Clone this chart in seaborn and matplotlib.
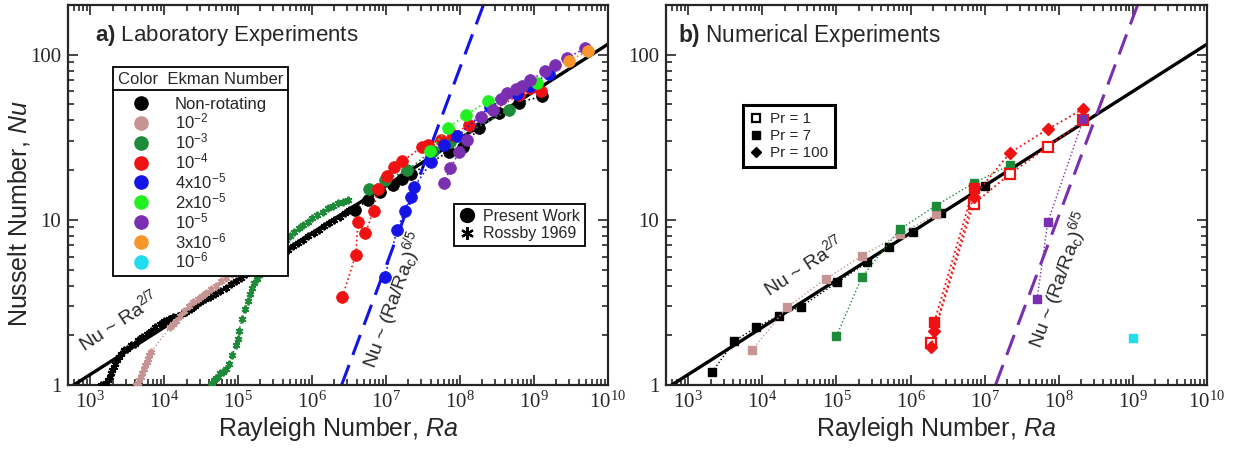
import numpy as np
import matplotlib
matplotlib.use('Agg')
import matplotlib.pyplot as plt
from matplotlib import ticker
from matplotlib.lines import Line2D
import seaborn as sns

sns.set_style('ticks')
plt.rcParams['font.family'] = ['Liberation Sans', 'DejaVu Sans']
plt.rcParams['mathtext.fontset'] = 'custom'
plt.rcParams['mathtext.rm'] = 'Liberation Sans'
plt.rcParams['mathtext.it'] = 'Liberation Sans:italic'
plt.rcParams['mathtext.bf'] = 'Liberation Sans:bold'

# colours per Ekman number
C_BLACK = '#000000'
C_ROSY = '#C79494'
C_GREEN = '#1E8B3A'
C_RED = '#F01212'
C_BLUE = '#1414E6'
C_LIME = '#22F022'
C_PURPLE = '#7A2FB0'
C_ORANGE = '#F8962E'
C_CYAN = '#22DDEE'

ek_labels = ['Non-rotating', r'$\mathdefault{10^{-2}}$', r'$\mathdefault{10^{-3}}$',
             r'$\mathdefault{10^{-4}}$', r'$\mathdefault{4x10^{-5}}$', r'$\mathdefault{2x10^{-5}}$',
             r'$\mathdefault{10^{-5}}$', r'$\mathdefault{3x10^{-6}}$', r'$\mathdefault{10^{-6}}$']
ek_colors = [C_BLACK, C_ROSY, C_GREEN, C_RED, C_BLUE, C_LIME, C_PURPLE, C_ORANGE, C_CYAN]

# ---- a) laboratory data (log10 Ra, log10 Nu) ----
# Rossby 1969 (asterisks)
ros_black_lra = [3.14, 3.18, 3.21, 3.24, 3.26, 3.28, 3.30, 3.32, 3.34, 3.36, 3.39, 3.42, 3.46, 3.50, 3.55,
                 3.60, 3.65, 3.70, 3.76, 3.82, 3.88, 3.94, 4.00, 4.06, 4.12, 4.18, 4.24, 4.30, 4.36, 4.42,
                 4.48, 4.55, 4.62, 4.69, 4.76, 4.83, 4.90, 4.97, 5.04, 5.11, 5.18, 5.25, 5.32, 5.39, 5.46,
                 5.53, 5.60, 5.67, 5.74, 5.81, 5.88, 5.95, 6.02, 6.09, 6.16, 6.23, 6.30, 6.37, 6.44, 6.50]
ros_black_lnu = [0.00, 0.00, 0.01, 0.03, 0.05, 0.07, 0.09, 0.11, 0.13, 0.15, 0.17, 0.19, 0.21, 0.22, 0.24,
                 0.25, 0.27, 0.29, 0.31, 0.33, 0.35, 0.37, 0.39, 0.40, 0.41, 0.42, 0.43, 0.44, 0.46, 0.48,
                 0.50, 0.52, 0.53, 0.55, 0.57, 0.59, 0.61, 0.63, 0.65, 0.67, 0.69, 0.70, 0.72, 0.74, 0.76,
                 0.78, 0.80, 0.82, 0.84, 0.86, 0.88, 0.90, 0.92, 0.94, 0.96, 0.98, 1.00, 1.02, 1.04, 1.06]
ros_rosy_lra = [3.62, 3.64, 3.66, 3.68, 3.70, 3.72, 3.74, 3.76, 3.78, 3.80, 3.82, 4.08, 4.12, 4.16, 4.21,
                4.27, 4.33, 4.39, 4.45, 4.51, 4.57, 4.63, 4.70, 4.77, 4.84, 4.91, 4.98, 5.05, 5.12, 5.19,
                5.26, 5.33, 5.40, 5.47, 5.53, 5.58]
ros_rosy_lnu = [0.00, 0.01, 0.03, 0.05, 0.07, 0.10, 0.12, 0.14, 0.16, 0.18, 0.20, 0.35, 0.37, 0.39, 0.42,
                0.45, 0.48, 0.50, 0.52, 0.54, 0.56, 0.58, 0.60, 0.63, 0.65, 0.67, 0.70, 0.71, 0.72, 0.74,
                0.76, 0.78, 0.80, 0.82, 0.83, 0.84]
ros_green_lra = [4.63, 4.65, 4.67, 4.70, 4.73, 4.76, 4.79, 4.83, 4.87, 4.92, 4.97, 5.00, 5.01, 5.05, 5.09,
                 5.13, 5.16, 5.19, 5.22, 5.25, 5.28, 5.31, 5.34, 5.38, 5.42, 5.46, 5.50, 5.55, 5.60, 5.65,
                 5.70, 5.76, 5.82, 5.88, 5.94, 6.00, 6.07, 6.14, 6.21, 6.28, 6.35, 6.42, 6.49]
ros_green_lnu = [0.00, 0.01, 0.03, 0.04, 0.05, 0.07, 0.08, 0.10, 0.13, 0.18, 0.24, 0.28, 0.33, 0.40, 0.46,
                 0.51, 0.55, 0.59, 0.62, 0.645, 0.665, 0.685, 0.70, 0.72, 0.75, 0.775, 0.80, 0.83, 0.855, 0.88,
                 0.90, 0.925, 0.95, 0.97, 0.99, 1.01, 1.03, 1.05, 1.07, 1.085, 1.10, 1.11, 1.12]

# Present work (circles)
pw_black_lra = [6.58, 6.75, 6.92, 7.09, 7.22, 7.33, 7.85, 8.04, 8.26, 8.53, 8.80, 9.11]
pw_black_lnu = [1.06, 1.12, 1.17, 1.21, 1.245, 1.275, 1.414, 1.444, 1.558, 1.65, 1.71, 1.75]
pw_green_lra = [6.77, 6.98, 7.28, 7.63, 7.87, 8.66]
pw_green_lnu = [1.19, 1.24, 1.30, 1.42, 1.47, 1.667]
pw_red_lra = [6.41, 6.59, 6.62, 6.72, 6.83, 6.89, 7.01, 7.11, 7.22, 7.49, 7.56, 7.74, 7.90, 8.12, 8.80, 8.95, 9.09]
pw_red_lnu = [0.535, 0.79, 0.99, 0.92, 1.056, 1.19, 1.267, 1.323, 1.354, 1.444, 1.455, 1.485, 1.515, 1.576,
              1.758, 1.80, 1.778]
pw_blue_lra = [6.98, 7.15, 7.25, 7.34, 7.38, 7.61, 7.78, 7.96, 8.40, 8.77, 8.94, 9.20]
pw_blue_lnu = [0.653, 0.94, 1.056, 1.141, 1.20, 1.35, 1.455, 1.505, 1.685, 1.765, 1.813, 1.885]
pw_lime_lra = [7.60, 7.83, 8.08, 8.38, 9.04]
pw_lime_lnu = [1.42, 1.555, 1.636, 1.721, 1.828]
pw_purple_lra = [7.78, 7.87, 7.99, 8.09, 8.28, 8.44, 8.55, 8.64, 8.75, 8.84, 8.95, 9.15, 9.29, 9.45, 9.69]
pw_purple_lnu = [1.222, 1.313, 1.414, 1.485, 1.622, 1.667, 1.731, 1.767, 1.791, 1.808, 1.848, 1.899, 1.939,
                 1.98, 2.04]
pw_orange_lra = [9.47, 9.73]
pw_orange_lnu = [1.965, 2.02]

# ---- b) numerical data ----
num_black_ra = [2.1e3, 4.2e3, 8.3e3, 1.66e4, 3.3e4, 1.03e5, 2.6e5, 5.1e5, 1.07e6, 2.6e6, 1.02e7]
num_black_nu = [1.2, 1.85, 2.24, 2.62, 2.98, 4.19, 5.54, 6.82, 8.42, 11.0, 16.1]
num_rosy_ra = [7.2e3, 2.15e4, 7.2e4, 2.2e5, 7.2e5, 2.2e6]
num_rosy_nu = [1.62, 2.96, 4.4, 6.05, 8.2, 10.8]
num_green_ra = [1.0e5, 2.2e5, 7.2e5, 2.2e6, 7.1e6, 2.2e7]
num_green_nu = [1.98, 4.5, 8.8, 12.2, 16.7, 21.5]
num_red_pr1_ra = [1.9e6, 7.1e6, 2.2e7, 7.1e7, 2.15e8]
num_red_pr1_nu = [1.8, 12.5, 19.0, 27.7, 40.2]
num_red_pr7_ra = [2.1e6, 7.1e6]
num_red_pr7_nu = [2.42, 15.6]
num_red_pr100_ra = [1.9e6, 2.1e6, 7.1e6, 2.2e7, 7.1e7, 2.15e8]
num_red_pr100_nu = [1.7, 2.13, 13.8, 25.5, 35.4, 47.0]
num_purple_ra = [5.1e7, 7.1e7, 2.15e8]
num_purple_nu = [3.32, 9.7, 40.7]
num_cyan_ra = [1.0e9]
num_cyan_nu = [1.93]

# scaling laws
nu_coef, nu_exp = 0.161, 2.0 / 7.0
rac_lab, rac_num, rot_exp = 2.5e6, 1.4e7, 6.0 / 5.0


def series(ax, ra, nu, color, marker, ms, mfc=None, mew=1.0, lw=1.0, z=3):
    sns.lineplot(x=ra, y=nu, ax=ax, color=color, linestyle=':', linewidth=lw,
                 marker=marker, markersize=ms, markerfacecolor=color if mfc is None else mfc,
                 markeredgecolor=color, markeredgewidth=mew, sort=False, estimator=None, zorder=z)


def lab(lra, lnu):
    return 10 ** np.array(lra), 10 ** np.array(lnu)


fig = plt.figure(figsize=(12.37, 4.5), dpi=100)
axL = fig.add_axes([0.055, 0.1444, 0.4365, 0.8444])
axR = fig.add_axes([0.5384, 0.1444, 0.4373, 0.8444])

for ax in (axL, axR):
    ax.set_xscale('log')
    ax.set_yscale('log')

# fit lines
ra_line = np.array([5e2, 1e10])
for ax in (axL, axR):
    sns.lineplot(x=ra_line, y=nu_coef * ra_line ** nu_exp, ax=ax, color='k', linewidth=2.4, zorder=2)
ra_rot = np.array([rac_lab, 1e9])
sns.lineplot(x=ra_rot, y=(ra_rot / rac_lab) ** rot_exp, ax=axL, color=C_BLUE, linewidth=2.2,
             linestyle=(0, (7, 3.5)), zorder=2)
ra_rot2 = np.array([rac_num, 1e10])
sns.lineplot(x=ra_rot2, y=(ra_rot2 / rac_num) ** rot_exp, ax=axR, color=C_PURPLE, linewidth=2.2,
             linestyle=(0, (7, 3.5)), zorder=2)

# asterisks (Rossby 1969)
star = (6, 2, 0)
for lra, lnu, c in [(ros_black_lra, ros_black_lnu, C_BLACK), (ros_rosy_lra, ros_rosy_lnu, C_ROSY),
                    (ros_green_lra, ros_green_lnu, C_GREEN)]:
    x, y = lab(lra, lnu)
    series(axL, x, y, c, star, 5.5, mew=1.4, lw=1.0)

# circles (present work)
for lra, lnu, c in [(pw_black_lra, pw_black_lnu, C_BLACK), (pw_green_lra, pw_green_lnu, C_GREEN),
                    (pw_red_lra, pw_red_lnu, C_RED), (pw_blue_lra, pw_blue_lnu, C_BLUE),
                    (pw_lime_lra, pw_lime_lnu, C_LIME), (pw_purple_lra, pw_purple_lnu, C_PURPLE),
                    (pw_orange_lra, pw_orange_lnu, C_ORANGE)]:
    x, y = lab(lra, lnu)
    series(axL, x, y, c, 'o', 8.5, mew=0.5, lw=1.2)

# numerical
series(axR, num_black_ra, num_black_nu, C_BLACK, 's', 5.5)
series(axR, num_rosy_ra, num_rosy_nu, C_ROSY, 's', 5.5)
series(axR, num_green_ra, num_green_nu, C_GREEN, 's', 5.5)
series(axR, num_red_pr1_ra, num_red_pr1_nu, C_RED, 's', 7.5, mfc='white', mew=1.6, lw=1.3)
series(axR, num_red_pr7_ra, num_red_pr7_nu, C_RED, 's', 7.5, lw=1.3)
series(axR, num_red_pr100_ra, num_red_pr100_nu, C_RED, 'D', 6.5, lw=1.3)
series(axR, num_purple_ra, num_purple_nu, C_PURPLE, 's', 5.5)
series(axR, num_cyan_ra, num_cyan_nu, C_CYAN, 's', 6)

for ax in (axL, axR):
    ax.set_xlim(5e2, 1e10)
    ax.set_ylim(1, 200)
    ax.xaxis.set_major_locator(ticker.LogLocator(base=10, numticks=20))
    ax.xaxis.set_minor_locator(ticker.LogLocator(base=10, subs=np.arange(2, 10), numticks=100))
    ax.yaxis.set_major_locator(ticker.FixedLocator([1, 10, 100]))
    ax.yaxis.set_minor_locator(ticker.LogLocator(base=10, subs=np.arange(2, 10), numticks=100))
    ax.yaxis.set_major_formatter(ticker.FuncFormatter(lambda v, p: '%g' % v))
    ax.xaxis.set_minor_formatter(ticker.NullFormatter())
    ax.yaxis.set_minor_formatter(ticker.NullFormatter())
    ax.tick_params(which='both', direction='in', top=True, right=True, width=1.2,
                   labelsize=15, labelfontfamily='Liberation Serif', pad=5)
    ax.tick_params(which='major', length=7)
    ax.tick_params(which='minor', length=4)
    for s in ax.spines.values():
        s.set_linewidth(1.6)
    ax.set_xlabel(r'Rayleigh Number, $\mathit{Ra}$', fontsize=18, labelpad=1)

axL.set_ylabel(r'Nusselt Number, $\mathit{Nu}$', fontsize=18)
axL.yaxis.set_label_coords(-0.066, 0.45)

axL.text(0.05, 0.921, r'$\mathbf{a)}$ Laboratory Experiments', transform=axL.transAxes,
         fontsize=16, va='center', ha='left')
axR.text(0.022, 0.921, r'$\mathbf{b)}$ Numerical Experiments', transform=axR.transAxes,
         fontsize=16.3, va='center', ha='left')

txt_kw = dict(fontsize=14, ha='center', va='center', rotation_mode='anchor')
axL.text(2.4e3, 2.48, r'Nu ~ Ra$^{2/7}$', rotation=33, **txt_kw)
axL.text(1.26e7, 3.3, r'Nu ~ (Ra/Ra$_\mathrm{c}$)$^{6/5}$', rotation=70, **txt_kw)
axR.text(3.5e4, 5.33, r'Nu ~ Ra$^{2/7}$', rotation=33, **txt_kw)
axR.text(1.02e8, 4.33, r'Nu ~ (Ra/Ra$_\mathrm{c}$)$^{6/5}$', rotation=70, **txt_kw)

# legends
ek_handles = [Line2D([], [], linestyle='', marker='o', markersize=9.5, color=c) for c in ek_colors]
leg1 = axL.legend(ek_handles, ek_labels, title='Color  Ekman Number', loc='upper left',
                  bbox_to_anchor=(0.083, 0.837), borderaxespad=0, fontsize=12, title_fontsize=12,
                  frameon=True, fancybox=False, framealpha=1, edgecolor='k', handlelength=2.8,
                  handletextpad=0.6, labelspacing=0.0, borderpad=0.3)
leg1.get_frame().set_linewidth(1.3)
leg1._legend_box.align = 'left'
leg1._legend_box.sep = 7
axL.add_artist(leg1)

src_handles = [Line2D([], [], linestyle='', marker='o', markersize=10, color='k'),
               Line2D([], [], linestyle='', marker=star, markersize=9, markeredgewidth=1.6, color='k')]
leg2 = axL.legend(src_handles, ['Present Work', 'Rossby 1969'], loc='upper left',
                  bbox_to_anchor=(0.715, 0.476), borderaxespad=0, fontsize=11.5, frameon=True,
                  fancybox=False, framealpha=1, edgecolor='k', handlelength=1.0,
                  handletextpad=0.5, labelspacing=0.15, borderpad=0.3)
leg2.get_frame().set_linewidth(1.3)

pr_handles = [Line2D([], [], linestyle='', marker='s', markersize=6, color='k', markerfacecolor='white',
                     markeredgewidth=1.6),
              Line2D([], [], linestyle='', marker='s', markersize=6, color='k'),
              Line2D([], [], linestyle='', marker='D', markersize=5, color='k')]
leg3 = axR.legend(pr_handles, ['Pr = 1', 'Pr = 7', 'Pr = 100'], loc='upper left',
                  bbox_to_anchor=(0.142, 0.737), borderaxespad=0, fontsize=11, frameon=True,
                  fancybox=False, framealpha=1, edgecolor='k', handlelength=0.8,
                  handletextpad=0.5, labelspacing=0.2, borderpad=0.45)
leg3.get_frame().set_linewidth(2.2)

# header rule in the Ekman legend
fig.canvas.draw()
r = fig.canvas.get_renderer()
tb = leg1.get_title().get_window_extent(r)
lb = leg1.get_frame().get_window_extent(r)
inv = fig.transFigure.inverted()
(x0, y0), (x1, _) = inv.transform([(lb.x0, tb.y0 - 3), (lb.x1, tb.y0 - 3)])
fig.add_artist(Line2D([x0, x1], [y0, y0], color='k', linewidth=1.3, transform=fig.transFigure))

fig.savefig('out.png', dpi=100)
